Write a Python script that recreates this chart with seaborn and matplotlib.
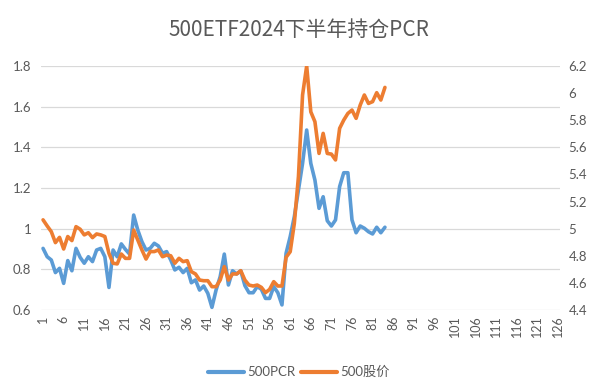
import matplotlib
matplotlib.use("Agg")
import matplotlib.pyplot as plt
import seaborn as sns
import pandas as pd
import numpy as np
from matplotlib.lines import Line2D

# ---- data ----
pcr = [0.903, 0.862, 0.846, 0.784, 0.805, 0.731, 0.843, 0.793, 0.903, 0.859,
       0.830, 0.862, 0.838, 0.895, 0.903, 0.862, 0.711, 0.895, 0.862, 0.925,
       0.898, 0.875, 1.067, 0.993, 0.936, 0.895, 0.903, 0.928, 0.915, 0.879,
       0.887, 0.846, 0.797, 0.810, 0.784, 0.805, 0.734, 0.748, 0.698, 0.718,
       0.682, 0.613, 0.698, 0.764, 0.875, 0.723, 0.793, 0.777, 0.793, 0.720,
       0.685, 0.685, 0.715, 0.702, 0.657, 0.657, 0.715, 0.685, 0.625, 0.879,
       0.961, 1.059, 1.190, 1.321, 1.485, 1.321, 1.239, 1.100, 1.157, 1.039,
       1.013, 1.043, 1.207, 1.275, 1.275, 1.043, 0.980, 1.013, 1.002, 0.985,
       0.974, 1.007, 0.980, 1.007]
price = [5.065, 5.020, 4.978, 4.897, 4.936, 4.850, 4.942, 4.912, 5.015, 4.996,
         4.954, 4.970, 4.934, 4.961, 4.954, 4.942, 4.818, 4.745, 4.740, 4.813,
         4.781, 4.781, 4.990, 4.916, 4.843, 4.776, 4.831, 4.831, 4.843, 4.793,
         4.805, 4.800, 4.745, 4.781, 4.757, 4.764, 4.683, 4.666, 4.621, 4.616,
         4.616, 4.572, 4.572, 4.621, 4.720, 4.621, 4.666, 4.666, 4.690, 4.621,
         4.584, 4.577, 4.584, 4.567, 4.528, 4.552, 4.609, 4.577, 4.577, 4.789,
         4.830, 5.039, 5.384, 5.986, 6.200, 5.862, 5.789, 5.555, 5.703, 5.555,
         5.550, 5.507, 5.740, 5.801, 5.850, 5.875, 5.814, 5.912, 5.986, 5.924,
         5.937, 6.003, 5.949, 6.042]
n_categories = 126
x_tick_values = list(range(1, n_categories + 1, 5))
left_ticks = [0.6, 0.8, 1.0, 1.2, 1.4, 1.6, 1.8]
right_ticks = [4.4, 4.6, 4.8, 5.0, 5.2, 5.4, 5.6, 5.8, 6.0, 6.2]
series_names = ["500PCR", "500股价"]
title = "500ETF2024下半年持仓PCR"

BLUE = "#5B9BD5"
ORANGE = "#ED7D31"
TXT = "#595959"
GRID = "#D9D9D9"

sns.set_theme(style="white")
plt.rcParams['font.family'] = ['Lato', 'Noto Sans CJK SC', 'DejaVu Sans']

df = pd.DataFrame({"day": np.arange(1, len(pcr) + 1), "pcr": pcr, "price": price})

fig = plt.figure(figsize=(5.98, 3.92), dpi=100)
ax = fig.add_axes([41 / 598, 1 - 310 / 392, (560 - 41) / 598, (310 - 66) / 392])

sns.lineplot(data=df, x="day", y="pcr", ax=ax, color=BLUE, lw=2.6, legend=False)
ax2 = ax.twinx()
sns.lineplot(data=df, x="day", y="price", ax=ax2, color=ORANGE, lw=2.6, legend=False)

ax.set_xlim(0.5, n_categories + 0.5)
ax.set_ylim(left_ticks[0], left_ticks[-1])
ax2.set_ylim(right_ticks[0], right_ticks[-1])

ax.set_yticks(left_ticks)
ax.set_yticklabels([f"{v:g}" for v in left_ticks])
ax2.set_yticks(right_ticks)
ax2.set_yticklabels([f"{v:g}" for v in right_ticks])
ax.set_xticks(x_tick_values)
ax.set_xticklabels([str(v) for v in x_tick_values], rotation=90)

ax.yaxis.grid(True, color=GRID, lw=0.9)
ax.xaxis.grid(False)
ax.set_axisbelow(True)
for a in (ax, ax2):
    for s in a.spines.values():
        s.set_visible(False)
    a.set_xlabel("")
    a.set_ylabel("")

ax.tick_params(axis="y", length=0, pad=7, labelsize=9.5, labelcolor=TXT)
ax2.tick_params(axis="y", length=0, pad=6, labelsize=9.5, labelcolor=TXT)
ax.tick_params(axis="x", length=0, pad=4, labelsize=9, labelcolor=TXT)

fig.text(0.5, 1 - 30 / 392, title, ha="center", va="center", fontsize=15,
         color=TXT, family=['Noto Sans CJK SC', 'DejaVu Sans'])

handles = [Line2D([], [], color=BLUE, lw=3), Line2D([], [], color=ORANGE, lw=3)]
leg = fig.legend(handles, series_names, loc="center", bbox_to_anchor=(0.5, 1 - 372 / 392),
                 ncol=2, frameon=False, fontsize=9.5, handlelength=2.7,
                 handletextpad=0.3, columnspacing=0.4)
for t in leg.get_texts():
    t.set_color(TXT)

fig.savefig("out.png", dpi=100)
